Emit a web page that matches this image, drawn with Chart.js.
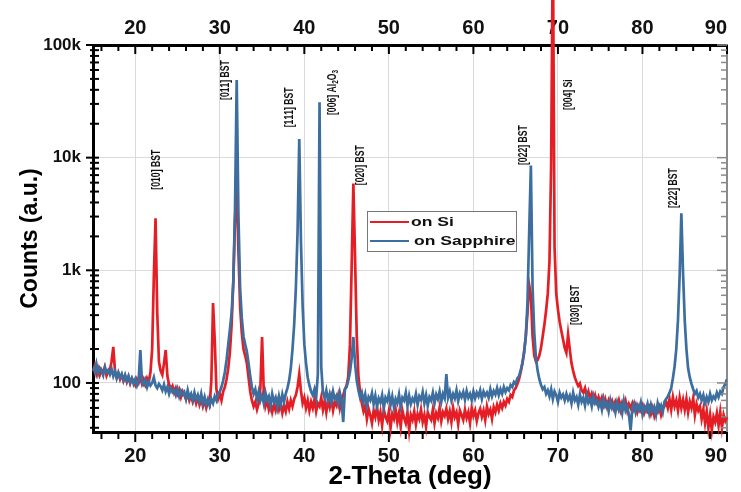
<!DOCTYPE html>
<html>
<head>
<meta charset="utf-8">
<script src="https://cdn.jsdelivr.net/npm/chart.js@4.4.1/dist/chart.umd.min.js"></script>
<style>
  html, body { margin: 0; padding: 0; background: #ffffff; }
  #wrap { width: 741px; height: 492px; }
</style>
</head>
<body>
<div id="wrap"><canvas id="c" width="741" height="492"></canvas></div>
<script>
// ---------------- data ----------------
const thetaStart = 15;     // first 2-theta sample (deg)
const thetaStep = 0.2;     // sampling step (deg)
const xTickValues = [20, 30, 40, 50, 60, 70, 80, 90];
const yTickValues = [100, 1000, 10000, 100000];
const yTickLabels = ['100', '1k', '10k', '100k'];
const seriesLabels = ['on Si', 'on Sapphire'];

const countsOnSi = [
  128,142,120,135,118,131,124,138,116,127,
  130,155,209,128,112,122,108,118,104,115,
  102,113,99,110,104,96,108,100,112,98,
  108,97,110,102,125,200,900,2900,420,155,
  128,118,150,196,115,96,88,94,82,90,
  80,87,75,84,78,72,82,70,77,68,
  76,66,74,64,72,62,70,60,68,64,
  105,513,240,88,72,80,70,84,92,108,
  135,190,330,800,2800,6000,1500,480,280,200,
  175,150,112,84,70,62,68,58,66,90,
  256,85,62,70,58,66,55,64,57,68,
  58,66,54,63,56,68,59,70,62,72,
  78,92,120,85,66,74,60,70,57,68,
  60,72,56,66,62,74,58,69,55,70,
  61,73,57,68,63,76,60,72,78,88,
  95,115,220,1100,5900,1300,260,115,82,66,
  56,63,48,59,52,44,57,50,61,47,
  55,42,58,50,46,56,40,53,48,58,
  45,54,41,57,49,44,55,38,52,47,
  56,43,53,48,58,45,52,41,55,50,
  47,58,44,54,49,60,46,55,51,59,
  48,56,45,60,50,55,43,57,52,47,
  58,49,55,44,60,51,57,46,54,59,
  50,57,47,62,53,58,48,61,55,64,
  57,66,60,68,63,72,68,78,75,86,
  90,98,108,125,150,190,260,420,740,600,
  260,175,155,160,175,205,260,330,440,620,
  1200,9000,1000000,1600,620,450,350,290,245,205,
  185,270,200,150,128,112,102,94,99,86,
  82,90,76,84,72,80,70,78,68,75,
  66,74,64,72,62,70,63,69,60,68,
  62,70,58,67,61,69,57,65,60,66,
  58,64,55,62,57,63,54,60,56,61,
  53,60,51,58,55,61,52,59,62,68,
  60,72,58,75,62,70,57,74,60,71,
  58,72,55,68,60,73,52,65,57,62,
  48,58,44,56,40,52,38,50,45,54,
  42,55,40,52,46,50
];

const countsOnSapphire = [
  140,126,148,121,136,129,117,138,124,130,
  119,133,115,127,110,124,112,120,106,118,
  104,115,101,110,98,108,95,105,196,100,
  96,106,92,103,95,100,112,95,90,98,
  93,86,97,84,92,80,90,83,87,78,
  88,76,85,79,83,72,86,74,80,70,
  82,71,78,68,80,66,75,64,72,63,
  72,66,76,70,80,84,92,105,125,160,
  220,300,420,800,3500,49000,3200,700,380,260,
  220,190,150,115,92,80,88,72,84,70,
  78,66,82,70,76,63,80,68,74,61,
  76,64,79,68,80,90,105,135,200,330,
  700,2200,14600,1800,480,220,150,112,95,84,
  78,88,74,120,31000,140,82,74,86,70,
  80,68,84,72,77,66,82,70,45,88,
  92,105,125,165,256,150,105,86,74,82,
  68,79,63,75,70,81,65,77,62,73,
  67,78,60,74,69,80,64,76,61,72,
  66,79,62,74,70,82,63,77,65,73,
  68,80,64,76,71,83,66,78,63,75,
  70,82,66,79,72,84,68,80,73,120,
  74,84,70,80,73,86,69,81,75,83,
  71,85,74,80,70,84,73,82,76,86,
  72,84,77,82,74,88,76,85,79,90,
  78,88,80,92,83,90,86,96,92,102,
  98,110,115,130,150,185,260,520,2200,8500,
  700,280,165,128,108,96,88,92,80,86,
  76,88,72,84,78,68,82,74,79,70,
  80,71,77,66,82,70,75,64,79,68,
  74,63,78,67,72,62,76,66,70,61,
  68,58,72,62,66,56,70,60,65,55,
  67,58,64,54,69,57,62,52,38,60,
  66,55,63,58,67,53,62,57,65,54,
  64,56,61,52,66,58,63,55,68,72,
  76,82,90,110,140,200,360,900,3200,950,
  360,200,135,112,98,88,80,85,74,80,
  70,78,66,75,68,80,70,76,72,82,
  75,84,80,92,98,108
];

// peak annotations (text, 2-theta, counts at the text's lower end)
const peakLabels = ['[010] BST', '[011] BST', '[111] BST', '[006] Al\u2082O\u2083', '[020] BST', '[022] BST', '[004] Si', '[030] BST', '[222] BST'];
const peakLabelTheta = [22.5, 30.7, 38.3, 43.3, 46.7, 66.0, 71.3, 72.1, 83.75];
const peakLabelCounts = [5200, 32500, 18600, 23900, 5700, 8600, 26500, 327, 3570];

// ---------------- styles ----------------
const FONT = 'Liberation Sans, Arial, sans-serif';
const RED = 'rgb(228,30,36)';
const BLUE = 'rgb(60,110,160)';
const GRID = '#dadada';
const XMIN = 15, XMAX = 90;
const YMIN = 36.7, YMAX = 100000;

const toPoints = arr => arr.map((v, i) => ({ x: +(thetaStart + i * thetaStep).toFixed(1), y: v }));

const axisTicks = {
  id: 'axisTicks',
  afterDraw(chart) {
    const { ctx, chartArea: { left, right, top, bottom }, scales: { x, y } } = chart;
    const seg = (x1, y1, x2, y2) => { ctx.beginPath(); ctx.moveTo(x1, y1); ctx.lineTo(x2, y2); ctx.stroke(); };
    ctx.save();
    ctx.strokeStyle = '#000'; ctx.lineWidth = 2;
    for (let t = 16; t <= 90; t += 2) {
      const px = x.getPixelForValue(t);
      const major = t % 10 === 0;
      seg(px, bottom, px, bottom + (major ? 10 : 7));
      seg(px, top, px, top + (major ? 9 : 6));
    }
    for (let d = 10; d <= 100000; d *= 10) {
      for (let m = 1; m <= 9; m++) {
        const v = d * m;
        if (v < YMIN || v > YMAX) continue;
        const py = y.getPixelForValue(v);
        const major = m === 1;
        ctx.strokeStyle = '#000'; ctx.lineWidth = 2;
        seg(left - (major ? 7 : 3), py, left + 6, py);
        ctx.strokeStyle = '#8a8a8a'; ctx.lineWidth = 1.5;
        seg(right - (major ? 10 : 6), py, right, py);
      }
    }
    ctx.restore();
  }
};

const SUBS = '\u2080\u2081\u2082\u2083\u2084\u2085\u2086\u2087\u2088\u2089';
const peakText = {
  id: 'peakText',
  afterDraw(chart) {
    const { ctx, scales: { x, y } } = chart;
    const normal = 'bold 12px ' + FONT, small = 'bold 9px ' + FONT;
    ctx.save();
    ctx.fillStyle = '#111';
    ctx.textAlign = 'left';
    ctx.textBaseline = 'middle';
    peakLabels.forEach((txt, i) => {
      const px = x.getPixelForValue(peakLabelTheta[i]);
      const py = y.getPixelForValue(peakLabelCounts[i]);
      ctx.save();
      ctx.translate(px, py);
      ctx.rotate(-Math.PI / 2);
      ctx.scale(0.72, 1);
      let cx = 0;
      for (const ch of txt) {
        const k = SUBS.indexOf(ch);
        if (k >= 0) {
          ctx.font = small;
          ctx.fillText(String(k), cx, 3.5);
          cx += ctx.measureText(String(k)).width;
        } else {
          ctx.font = normal;
          ctx.fillText(ch, cx, 0);
          cx += ctx.measureText(ch).width;
        }
      }
      ctx.restore();
    });
    ctx.restore();
  }
};

const boxLegend = {
  id: 'boxLegend',
  afterDraw(chart) {
    const { ctx, chartArea: { left, top } } = chart;
    const bx = left + 274, by = top + 166, bw = 149, bh = 40;
    ctx.save();
    ctx.fillStyle = '#fff';
    ctx.fillRect(bx, by, bw, bh);
    ctx.strokeStyle = '#777'; ctx.lineWidth = 1;
    ctx.strokeRect(bx + 0.5, by + 0.5, bw, bh);
    const colors = [RED, BLUE];
    seriesLabels.forEach((lab, i) => {
      const ly = by + 11 + i * 19;
      ctx.strokeStyle = colors[i]; ctx.lineWidth = 2;
      ctx.beginPath(); ctx.moveTo(bx + 3, ly); ctx.lineTo(bx + 42, ly); ctx.stroke();
      ctx.save();
      ctx.translate(bx + 44 + i * 3, ly);
      ctx.scale(1.3, 1);
      ctx.fillStyle = '#111';
      ctx.font = 'bold 13.5px ' + FONT;
      ctx.textAlign = 'left'; ctx.textBaseline = 'middle';
      ctx.fillText(lab, 0, 0);
      ctx.restore();
    });
    ctx.restore();
  }
};

const xTicksCfg = {
  font: { family: FONT, size: 20, weight: 'bold' },
  color: '#111', maxRotation: 0, autoSkip: false, align: 'inner',
  callback: v => (v === XMIN ? '' : String(v))
};
const xBuild = s => { s.ticks = [XMIN].concat(xTickValues).map(v => ({ value: v })); };

new Chart(document.getElementById('c').getContext('2d'), {
  type: 'line',
  data: {
    datasets: [
      { label: seriesLabels[1], data: toPoints(countsOnSapphire), borderColor: BLUE, borderWidth: 2.7, pointRadius: 0, tension: 0, borderJoinStyle: 'miter' },
      { label: seriesLabels[0], data: toPoints(countsOnSi), borderColor: RED, borderWidth: 2.7, pointRadius: 0, tension: 0, clip: false, borderJoinStyle: 'miter' }
    ]
  },
  options: {
    responsive: false,
    animation: false,
    layout: { padding: 0 },
    plugins: { legend: { display: false }, tooltip: { enabled: false } },
    scales: {
      x: {
        type: 'linear', position: 'bottom', min: XMIN, max: XMAX,
        afterBuildTicks: xBuild,
        ticks: Object.assign({ padding: 12 }, xTicksCfg),
        grid: { drawTicks: false, lineWidth: 1, color: c => (c.tick && (c.tick.value === XMAX || c.tick.value === XMIN)) ? 'rgba(0,0,0,0)' : GRID },
        border: { display: true, color: '#000', width: 3 },
        title: { display: true, text: '2-Theta (deg)', color: '#000', font: { family: FONT, size: 26, weight: 'bold' }, padding: { top: 0, bottom: 0 } },
        afterFit: s => { s.height = 60; }
      },
      xTop: {
        type: 'linear', position: 'top', min: XMIN, max: XMAX,
        afterBuildTicks: xBuild,
        ticks: Object.assign({ padding: 5 }, xTicksCfg),
        grid: { display: false, drawTicks: false },
        border: { display: true, color: '#000', width: 3 },
        afterFit: s => { s.height = 45; }
      },
      y: {
        type: 'logarithmic', position: 'left', min: YMIN, max: YMAX,
        afterBuildTicks: s => { s.ticks = yTickValues.map(v => ({ value: v })); },
        ticks: {
          font: { family: FONT, size: 17, weight: 'bold' }, color: '#111', padding: 12,
          callback: v => { const i = yTickValues.indexOf(v); return i >= 0 ? yTickLabels[i] : ''; }
        },
        grid: { drawTicks: false, lineWidth: 1, color: c => (c.tick && c.tick.value === YMAX) ? 'rgba(0,0,0,0)' : GRID },
        border: { display: true, color: '#000', width: 3 },
        title: { display: true, text: 'Counts (a.u.)', color: '#000', font: { family: FONT, size: 23, weight: 'bold' }, padding: { top: 17, bottom: 0 } },
        afterFit: s => { s.width = 93; }
      },
      yRight: {
        type: 'logarithmic', position: 'right', min: YMIN, max: YMAX,
        ticks: { display: false },
        grid: { display: false, drawTicks: false },
        border: { display: true, color: '#8a8a8a', width: 2 },
        afterFit: s => { s.width = 14; }
      }
    }
  },
  plugins: [axisTicks, peakText, boxLegend]
});
</script>
</body>
</html>
